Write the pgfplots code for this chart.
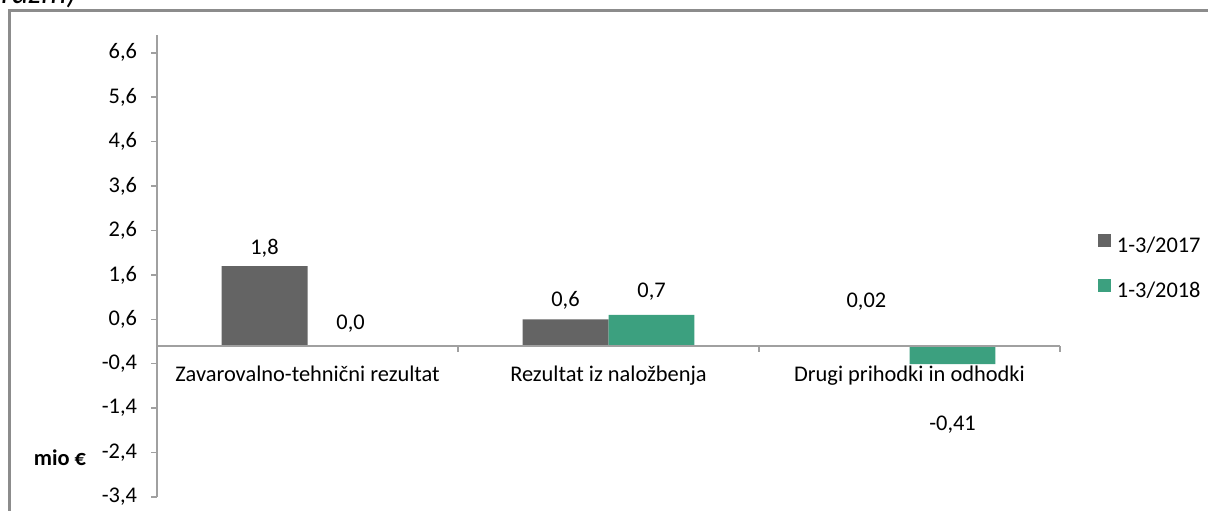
\documentclass[border=0pt]{standalone}
\usepackage{fontspec}
\setmainfont{Carlito}
\usepackage{pgfplots}
\pgfplotsset{compat=1.18}
\definecolor{gbar}{HTML}{646464}
\definecolor{tbar}{HTML}{3CA07F}
\definecolor{axgray}{HTML}{A0A0A0}
\definecolor{framegray}{HTML}{8C8C8C}
\pgfplotsset{sqlegend/.style={legend image code/.code={\fill[##1] (0pt,0.3pt) rectangle (9.5pt,9.8pt);}}}
\newcommand{\fs}{\fontsize{16.8}{20}\selectfont}
\begin{document}
\begin{tikzpicture}
\begin{scope}[x=0.75pt,y=-0.75pt]
\useasboundingbox (0,0) rectangle (1208,511);
\draw[framegray, line width=1.6pt] (9.5,540) -- (9.5,10.5) -- (1240,10.5);
\node[anchor=base west, inner sep=0, font=\fontsize{24}{28}\selectfont\itshape] at (1,3) {razm)};
\node[anchor=base, inner sep=0, font=\fs\bfseries] at (60,465) {mio €};
\end{scope}
\begin{axis}[
  at={(117.75pt,-372.75pt)}, anchor=south west,
  scale only axis, width=677.25pt, height=346.5pt,
  xmin=0, xmax=3, ymin=-3.4, ymax=7.0,
  axis x line*=middle, axis y line*=left,
  axis on top,
  axis line style={axgray, line width=1.1pt},
  every tick/.style={axgray, line width=1.1pt},
  tick align=outside,
  major tick length=4.5pt, minor tick length=4.5pt,
  ytick={-3.4,-2.4,-1.4,-0.4,0.6,1.6,2.6,3.6,4.6,5.6,6.6},
  yticklabel style={font=\fs, xshift=-7pt,
    /pgf/number format/fixed, /pgf/number format/fixed zerofill,
    /pgf/number format/precision=1, /pgf/number format/use comma,
    /pgf/number format/assume math mode=true},
  xtick={0.5,1.5,2.5},
  xticklabels={Zavarovalno-tehnični rezultat, Rezultat iz naložbenja, Drugi prihodki in odhodki},
  major x tick style={draw=none},
  minor xtick={0,1,2,3},
  xticklabel style={font=\fs, anchor=base, yshift=-22.5pt},
  legend style={at={(1.0421,0.496)}, anchor=west, draw=none, fill=none,
    inner sep=0pt, font=\fs, row sep=17pt,
    nodes={inner xsep=4.5pt, inner ysep=0pt, text height=11pt, text depth=3pt}},
  legend cell align=left,
]
\addplot[ybar, bar width=0.2857, bar shift=-0.14285, fill=gbar, draw=none, sqlegend]
  coordinates {(0.5,1.8) (1.5,0.6) (2.5,0.02)};
\addlegendentry{1-3/2017}
\addplot[ybar, bar width=0.2857, bar shift=0.14285, fill=tbar, draw=none, sqlegend]
  coordinates {(0.5,0.0) (1.5,0.7) (2.5,-0.41)};
\addlegendentry{1-3/2018}
\addplot[draw=none, mark=none, forget plot, nodes near coords, point meta=explicit symbolic,
  nodes near coords style={anchor=base, inner sep=0pt, font=\fs, text=black}]
  table[meta=label] {
x y label
0.357 2.07 1,8
0.643 0.38 0,0
1.357 0.88 0,6
1.643 1.10 0,7
2.357 0.86 0,02
2.643 -1.91 -0,41
};
\end{axis}
\end{tikzpicture}
\end{document}
